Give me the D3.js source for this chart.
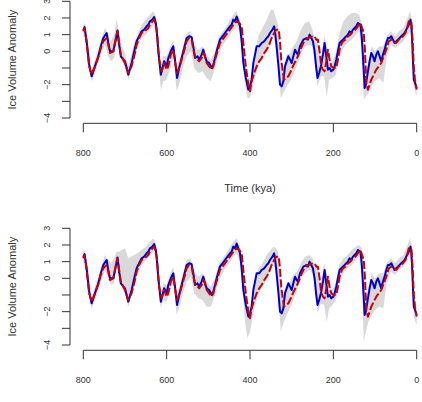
<!DOCTYPE html>
<html>
<head>
<meta charset="utf-8">
<script src="https://cdn.jsdelivr.net/npm/d3@7"></script>
<style>
  body { margin: 0; background: #fff; }
  svg { display: block; font-family: "Liberation Sans", Arial, sans-serif; }
</style>
</head>
<body>
<svg id="chart" width="422" height="402"></svg>
<script>
// Ice volume reconstruction, two panels with the same lines but different bands

var blueTime = [800, 797, 792, 786, 780, 772, 764, 758, 752, 744, 740, 736, 728, 722, 718, 714, 710, 700, 692, 684,
  676, 672, 666, 660, 654, 648, 644, 640, 634, 630, 626, 624, 620, 614, 610, 606, 600, 596, 590, 584,
  580, 575, 570, 564, 556, 552, 546, 540, 536, 532, 526, 522, 516, 512, 508, 504, 498, 492, 488, 484,
  478, 472, 466, 460, 454, 448, 444, 440, 436, 432, 428, 424, 420, 416, 410, 404, 400, 396, 392, 388,
  384, 378, 372, 366, 360, 356, 352, 346, 342, 340, 337, 332, 328, 324, 320, 316, 312, 308, 304, 300,
  296, 292, 288, 285, 280, 276, 272, 268, 265, 261, 257, 253, 249, 245, 241, 238, 234, 229, 225, 221,
  217, 213, 209, 205, 200, 197, 193, 189, 185, 181, 177, 173, 169, 165, 161, 157, 153, 149, 145, 141,
  138, 135, 132, 130, 127, 125, 122, 117, 113, 109, 105, 101, 97, 93, 89, 85, 81, 77, 73, 69,
  65, 61, 57, 53, 49, 45, 41, 37, 33, 29, 25, 21, 17, 15, 13, 11, 9, 7, 4, 0];
var blueVal = [1.25, 1.45, 0.6, -0.8, -1.5, -0.9, -0.3, 0.3, 0.8, 1.1, 0.5, 0.0, 0.0, 0.7, 1.25, 0.4, -0.3, -0.6, -1.4, -0.7,
  0.2, 0.6, 0.9, 1.2, 1.3, 1.5, 1.6, 1.8, 1.9, 2.05, 1.7, 1.3, 0.0, -1.4, -1.0, -0.6, -0.9, -0.4, 0.0, 0.3,
  -0.5, -1.6, -1.0, -0.4, 0.4, 0.8, 0.9, 0.85, 0.3, -0.4, -0.3, -0.5, -0.2, 0.1, -0.3, -0.6, -0.7, -1.0, -0.8, -0.4,
  0.2, 0.7, 0.9, 1.1, 1.3, 1.5, 1.6, 1.9, 1.8, 2.08, 1.8, 1.5, 0.6, -0.7, -1.6, -2.3, -2.1, -1.7, -0.7, -0.2,
  0.3, 0.3, 0.5, 0.6, 0.8, 0.9, 1.1, 1.3, 1.5, 1.2, 0.5, -0.8, -2.0, -2.1, -1.8, -0.9, -0.6, -0.3, -0.5, -0.7,
  -0.3, 0.1, -0.1, -0.2, 0.3, 0.5, 0.7, 0.75, 0.8, 0.7, 1.0, 0.8, 0.6, 0.0, -1.0, -1.6, -1.3, -0.8, -0.2, 0.5,
  -0.3, -1.1, -1.0, -1.2, -1.1, -0.9, -0.5, 0.0, 0.5, 0.6, 0.7, 0.8, 0.9, 1.0, 1.2, 1.1, 1.3, 1.4, 1.5, 1.7,
  1.65, 1.6, 0.9, 0.1, -1.2, -2.2, -2.0, -1.2, -0.6, -0.1, -0.3, -0.6, -0.2, 0.0, -0.3, -0.6, -0.2, 0.1, 0.5, 0.8,
  0.8, 0.9, 0.7, 0.5, 0.6, 0.7, 0.8, 0.9, 1.0, 1.1, 1.3, 1.5, 1.7, 1.9, 1.6, 0.7, -0.6, -1.7, -1.9, -2.2];

var redTime = [800, 797, 792, 786, 780, 772, 764, 758, 752, 744, 740, 736, 728, 722, 718, 714, 710, 700, 692, 684,
  676, 672, 666, 660, 654, 648, 644, 640, 634, 630, 626, 622, 618, 612, 606, 600, 596, 590, 584, 580,
  575, 570, 564, 556, 552, 546, 540, 536, 532, 526, 522, 516, 512, 508, 504, 498, 492, 488, 484, 478,
  472, 466, 460, 454, 448, 440, 432, 426, 420, 416, 410, 404, 400, 396, 390, 384, 378, 372, 366, 360,
  354, 348, 342, 337, 331, 328, 325, 321, 318, 314, 308, 302, 297, 291, 285, 279, 272, 266, 261, 255,
  249, 245, 241, 237, 233, 229, 225, 221, 217, 213, 209, 205, 199, 193, 189, 185, 181, 177, 171, 165,
  159, 153, 147, 141, 135, 131, 127, 124, 121, 117, 113, 109, 103, 97, 91, 85, 79, 73, 67, 61,
  55, 49, 43, 37, 33, 27, 23, 19, 13, 10, 7, 4, 0];
var redVal = [1.2, 1.4, 0.5, -0.9, -1.4, -0.9, -0.35, 0.2, 0.6, 0.8, 0.4, -0.1, 0.0, 0.8, 1.2, 0.5, -0.2, -0.7, -1.3, -0.9,
  -0.1, 0.4, 0.8, 1.1, 1.2, 1.3, 1.4, 1.6, 1.8, 1.9, 1.6, 0.8, -0.5, -1.2, -0.7, -1.1, -0.9, -0.2, 0.1, -0.6,
  -1.3, -1.0, -0.5, 0.2, 0.6, 0.8, 0.7, 0.1, -0.3, -0.5, -0.6, -0.4, -0.1, -0.3, -0.7, -0.9, -1.1, -0.9, -0.5, 0.0,
  0.5, 0.7, 0.9, 1.1, 1.3, 1.6, 1.8, 1.7, 1.5, 0.5, -0.9, -2.0, -2.4, -1.8, -1.3, -0.9, -0.6, -0.4, -0.1, 0.1,
  0.4, 0.8, 1.1, 1.3, 1.3, 0.6, -0.5, -1.3, -1.7, -1.6, -1.5, -1.2, -0.9, -0.6, -0.3, 0.1, 0.5, 0.7, 0.8, 0.85,
  0.9, 0.9, 0.7, 0.7, 0.0, -0.9, -1.1, -1.2, -0.6, 0.1, -0.5, -0.9, -1.0, -1.0, -0.5, 0.1, 0.4, 0.6, 0.7, 0.9,
  1.0, 1.2, 1.3, 1.5, 1.7, 1.4, 1.1, 0.0, -1.9, -2.3, -2.0, -1.7, -1.4, -1.1, -0.9, -0.7, -0.3, 0.1, 0.6, 0.7,
  0.6, 0.5, 0.7, 0.8, 0.9, 1.1, 1.4, 1.8, 1.8, 0.8, -0.9, -1.8, -2.3];

// grey uncertainty band (upper / lower edge) for each panel
var bandTime = [800, 796, 790, 784, 780, 772, 764, 756, 748, 740, 734, 726, 720, 714, 708, 700, 692, 686, 678, 670,
  660, 650, 640, 632, 626, 620, 614, 608, 600, 590, 584, 576, 568, 560, 552, 542, 534, 524, 514, 504,
  494, 484, 474, 462, 450, 440, 432, 424, 418, 412, 406, 400, 394, 388, 380, 370, 360, 350, 344, 338,
  332, 326, 320, 312, 304, 296, 288, 278, 268, 258, 250, 244, 238, 230, 222, 216, 210, 202, 194, 186,
  176, 166, 156, 146, 138, 132, 127, 122, 116, 108, 100, 90, 80, 72, 62, 52, 42, 32, 22, 16,
  11, 7, 3, 0];
var bandHiTop = [1.6, 1.7, 0.9, -0.3, -1.1, -0.5, 0.1, 0.8, 1.4, 1.0, 0.6, 1.0, 1.9, 1.1, 0.3, -0.1, -0.9, -0.3, 0.5, 1.0,
  1.6, 1.9, 2.2, 2.4, 2.1, 0.8, -0.9, -0.3, -0.3, 0.4, 0.7, -1.0, -0.4, 0.4, 1.1, 1.2, 0.4, 0.1, 0.3, -0.2,
  -0.5, 0.0, 0.9, 1.3, 1.8, 2.2, 2.4, 1.9, 1.2, -0.3, -1.6, -1.6, -0.8, 0.0, 0.9, 1.4, 1.9, 2.5, 2.5, 2.0,
  1.5, -0.5, -1.0, -0.2, -0.1, 0.3, 0.6, 1.3, 1.7, 1.8, 1.3, 0.6, 0.9, -0.4, 0.9, 0.3, -0.4, -0.6, -0.1, 1.0,
  1.8, 2.1, 2.3, 2.3, 2.2, 1.7, 1.2, -1.2, -0.6, 0.3, 0.0, 0.3, 0.3, 0.9, 1.2, 0.9, 1.2, 1.4, 2.0, 2.4,
  1.9, -0.5, -1.4, -1.8];
var bandLoTop = [0.9, 0.9, -0.3, -1.4, -1.8, -1.3, -0.7, -0.1, 0.4, -0.3, -0.6, -0.4, 0.6, 0.0, -0.6, -1.0, -1.7, -1.2, -0.4, 0.2,
  0.8, 1.0, 1.3, 1.6, 1.2, -0.6, -2.3, -1.8, -1.7, -0.9, -0.4, -2.4, -1.8, -0.9, -0.3, 0.0, -1.0, -1.3, -1.2, -1.6,
  -1.8, -1.0, -0.1, 0.5, 0.9, 1.3, 1.5, 1.1, -0.5, -2.0, -2.8, -2.8, -2.2, -1.6, -0.9, -0.5, -0.1, 0.5, 0.9, 0.2,
  -1.2, -2.8, -2.5, -2.1, -1.8, -1.4, -0.9, -0.2, 0.3, 0.4, 0.3, -1.0, -2.1, -1.5, -1.5, -2.7, -1.7, -1.6, -1.4, -0.4,
  0.2, 0.5, 0.7, 1.0, 1.2, 0.3, -2.9, -2.7, -2.5, -2.1, -1.8, -1.6, -1.9, -0.3, 0.4, 0.2, 0.4, 0.6, 1.0, 1.3,
  0.3, -2.1, -2.5, -2.7];
var bandHiBottom = [1.6, 1.7, 0.9, -0.3, -1.1, -0.5, 0.1, 0.8, 1.4, 1.1, 0.9, 1.2, 1.6, 1.6, 1.7, 1.8, 1.2, 1.3, 1.4, 1.5,
  1.7, 1.9, 2.2, 2.4, 2.1, 0.9, -1.0, -0.3, -0.4, 0.4, 0.7, -0.9, -0.4, 0.4, 1.1, 1.2, 0.4, 0.1, 0.3, -0.2,
  -0.5, 0.0, 0.9, 1.3, 1.8, 2.2, 2.4, 1.9, 1.3, -0.3, -1.6, -1.7, -1.0, -0.1, 0.6, 0.9, 1.4, 1.7, 1.9, 1.8,
  1.6, -0.5, -1.0, -0.3, -0.2, 0.2, 0.4, 0.9, 1.3, 1.4, 1.2, 0.6, 0.9, -0.4, 0.9, 0.3, -0.5, -0.7, -0.2, 0.8,
  1.2, 1.4, 1.7, 1.9, 2.0, 1.8, 1.2, -1.2, -0.6, 0.3, 0.0, 0.3, 0.3, 0.9, 1.2, 0.9, 1.2, 1.4, 2.0, 2.4,
  1.9, -0.5, -1.4, -1.8];
var bandLoBottom = [0.9, 0.9, -0.3, -1.4, -1.8, -1.3, -0.7, -0.1, 0.5, 0.0, -0.4, -0.3, 0.7, 0.1, -0.5, -1.0, -1.7, -1.2, -0.4, 0.2,
  0.8, 1.1, 1.4, 1.6, 1.3, -0.3, -1.8, -1.3, -1.4, -0.6, -0.3, -2.2, -1.6, -0.8, -0.2, 0.1, -0.9, -1.2, -1.3, -1.7,
  -1.7, -1.0, -0.1, 0.5, 0.9, 1.3, 1.5, 1.0, -0.6, -2.6, -3.6, -3.2, -2.4, -1.6, -1.0, -0.5, -0.1, 0.5, 0.9, 0.3,
  -1.3, -3.2, -2.7, -2.2, -1.8, -1.3, -0.8, 0.0, 0.3, 0.5, 0.3, -0.6, -2.1, -1.5, -1.6, -2.6, -1.8, -1.6, -1.3, -0.4,
  0.3, 0.6, 0.8, 1.1, 1.3, 0.2, -3.8, -3.2, -2.6, -2.2, -1.9, -1.7, -1.8, -0.3, 0.4, 0.2, 0.5, 0.7, 1.1, 1.4,
  0.3, -2.3, -2.6, -2.8];

var yTicks = [-4, -3, -2, -1, 0, 1, 2, 3];
var yTickLabels = [-4, -2, 0, 1, 2, 3];
var xTicks = [800, 600, 400, 200, 0];

var svg = d3.select('#chart');

var x = d3.scaleLinear().domain([800, 0]).range([83.3, 416.7]);

function pairs(times, vals) {
  return times.map(function(t, i) { return [t, vals[i]]; });
}

function drawPanel(top, hi, lo, showTitle) {
  var y = d3.scaleLinear().domain([-4, 3]).range([top + 116.7, top]);
  var g = svg.append('g');

  // band
  var band = bandTime.map(function(t, i) { return { t: t, hi: hi[i], lo: lo[i] }; });
  g.append('path')
    .datum(band)
    .attr('fill', '#d9d9d9')
    .attr('d', d3.area()
      .x(d => x(d.t))
      .y0(d => y(d.lo))
      .y1(d => y(d.hi)));

  var line = d3.line()
    .x(d => x(d[0]))
    .y(d => y(d[1]));

  g.append('path')
    .datum(pairs(blueTime, blueVal))
    .attr('fill', 'none')
    .attr('stroke', '#0000cd')
    .attr('stroke-width', 2)
    .attr('stroke-linejoin', 'round')
    .attr('d', line);

  g.append('path')
    .datum(pairs(redTime, redVal))
    .attr('fill', 'none')
    .attr('stroke', '#cd0000')
    .attr('stroke-width', 2)
    .attr('stroke-dasharray', '8,2.5')
    .attr('stroke-linejoin', 'round')
    .attr('d', line);

  // y axis, R style: labels turned parallel to the axis
  var axisX = 70;
  g.append('line')
    .attr('x1', axisX).attr('x2', axisX)
    .attr('y1', y(-4)).attr('y2', y(3))
    .attr('stroke', '#333');
  g.selectAll('.ytick')
    .data(yTicks)
    .enter()
    .append('line')
    .attr('x1', axisX - 8).attr('x2', axisX)
    .attr('y1', d => y(d)).attr('y2', d => y(d))
    .attr('stroke', '#333');
  g.selectAll('.ylab')
    .data(yTickLabels)
    .enter()
    .append('text')
    .attr('transform', d => 'translate(' + 50 + ',' + y(d) + ') rotate(-90)')
    .attr('text-anchor', 'middle')
    .attr('font-size', 9)
    .attr('fill', '#333')
    .text(d => (d < 0 ? '\u2212' + Math.abs(d) : d));

  g.append('text')
    .attr('transform', 'translate(16,' + (y(-4) + y(3)) / 2 + ') rotate(-90)')
    .attr('text-anchor', 'middle')
    .attr('font-size', 11)
    .attr('fill', '#333')
    .text('Ice Volume Anomaly');

  // x axis
  var axisY = top + 122;
  g.append('line')
    .attr('x1', x(800)).attr('x2', x(0))
    .attr('y1', axisY).attr('y2', axisY)
    .attr('stroke', '#333');
  g.selectAll('.xtick')
    .data(xTicks)
    .enter()
    .append('line')
    .attr('x1', d => x(d)).attr('x2', d => x(d))
    .attr('y1', axisY).attr('y2', axisY + 9)
    .attr('stroke', '#333');
  g.selectAll('.xlab')
    .data(xTicks)
    .enter()
    .append('text')
    .attr('x', d => x(d))
    .attr('y', axisY + 33)
    .attr('text-anchor', 'middle')
    .attr('font-size', 9)
    .attr('fill', '#333')
    .text(d => d);

  // the lower panel's axis title falls below the window, so only the top one is drawn
  if (showTitle) {
    g.append('text')
      .attr('x', (x(800) + x(0)) / 2)
      .attr('y', axisY + 69)
      .attr('text-anchor', 'middle')
      .attr('font-size', 11)
      .attr('fill', '#333')
      .text('Time (kya)');
  }
}

drawPanel(1.3, bandHiTop, bandLoTop, true);
drawPanel(228.3, bandHiBottom, bandLoBottom, false);
</script>
</body>
</html>
